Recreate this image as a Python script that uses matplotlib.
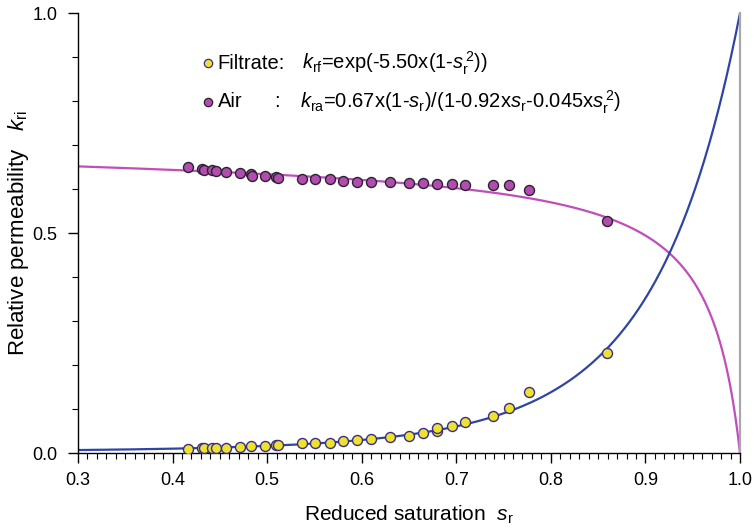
import numpy as np
import matplotlib
matplotlib.use("Agg")
import matplotlib.pyplot as plt
from matplotlib.ticker import MultipleLocator, FixedLocator, FormatStrFormatter

plt.rcParams["font.family"] = ["Liberation Sans", "DejaVu Sans"]
plt.rcParams["mathtext.fontset"] = "custom"
plt.rcParams["mathtext.rm"] = "Liberation Sans"
plt.rcParams["mathtext.it"] = "Liberation Sans:italic"

# Measured reduced saturation and relative permeabilities
s_air = [0.416, 0.431, 0.433, 0.442, 0.446, 0.457, 0.471, 0.483, 0.484, 0.498,
         0.509, 0.512, 0.537, 0.551, 0.566, 0.580, 0.595, 0.610, 0.630, 0.650,
         0.665, 0.680, 0.695, 0.709, 0.739, 0.756, 0.777, 0.859]
k_air = [0.649, 0.645, 0.643, 0.643, 0.642, 0.639, 0.637, 0.634, 0.630, 0.630,
         0.627, 0.625, 0.623, 0.622, 0.622, 0.619, 0.617, 0.616, 0.615, 0.614,
         0.613, 0.612, 0.611, 0.610, 0.609, 0.608, 0.598, 0.528]

s_filt = [0.416, 0.431, 0.433, 0.442, 0.446, 0.457, 0.471, 0.483, 0.498, 0.509,
          0.512, 0.537, 0.551, 0.566, 0.580, 0.595, 0.610, 0.630, 0.650, 0.665,
          0.680, 0.680, 0.695, 0.709, 0.739, 0.756, 0.777, 0.859]
k_filt = [0.009, 0.011, 0.011, 0.011, 0.011, 0.011, 0.013, 0.015, 0.017, 0.019,
          0.019, 0.022, 0.022, 0.023, 0.027, 0.029, 0.032, 0.036, 0.039, 0.045,
          0.049, 0.056, 0.061, 0.070, 0.083, 0.103, 0.139, 0.227]

# Fitted model coefficients
a_filt = 5.50
c_air, b1_air, b2_air = 0.67, 0.92, 0.045

x_ticks = [0.3, 0.4, 0.5, 0.6, 0.7, 0.8, 0.9, 1.0]
y_ticks = [0.0, 0.5, 1.0]

s = np.linspace(0.3, 1.0, 600)
kf_fit = np.exp(-a_filt * (1 - s ** 2))
ka_fit = c_air * (1 - s) / (1 - b1_air * s - b2_air * s ** 2)

fig = plt.figure(figsize=(7.54, 5.29), dpi=100)
ax = fig.add_axes([78 / 754, 76 / 529, 662 / 754, 440 / 529])

blue = "#2F45A6"
magenta = "#C04DBB"

ax.plot(s, ka_fit, color=magenta, lw=1.6, zorder=2)
ax.plot(s, kf_fit, color=blue, lw=1.6, zorder=2)

ax.plot(s_air, k_air, ls="none", marker="o", ms=7.2, mfc="#B24CAE",
        mec="#2A2230", mew=1.0, zorder=3)
ax.plot(s_filt, k_filt, ls="none", marker="o", ms=7.2, mfc="#EEE231",
        mec="#3B2D86", mew=1.0, zorder=3)

ax.set_xlim(0.3, 1.0)
ax.set_ylim(0.0, 1.0)

ax.xaxis.set_major_locator(FixedLocator(x_ticks))
ax.xaxis.set_minor_locator(MultipleLocator(0.01))
ax.yaxis.set_major_locator(FixedLocator(y_ticks))
ax.yaxis.set_minor_locator(MultipleLocator(0.1))
ax.xaxis.set_major_formatter(FormatStrFormatter("%.1f"))
ax.yaxis.set_major_formatter(FormatStrFormatter("%.1f"))

ax.tick_params(axis="both", which="major", direction="out", length=7,
               width=1.0, labelsize=13, color="black")
ax.tick_params(axis="x", which="major", pad=7)
ax.tick_params(axis="y", which="major", pad=8)
ax.tick_params(axis="both", which="minor", direction="out", length=4,
               width=0.8, color="black")

ax.spines["top"].set_visible(False)
ax.spines["right"].set_color("#A8A8A8")
ax.spines["right"].set_linewidth(1.6)
ax.spines["left"].set_linewidth(1.0)
ax.spines["bottom"].set_linewidth(1.0)

ax.set_xlabel(r"Reduced saturation  $s_{\rm r}$", fontsize=15)
ax.set_ylabel(r"Relative permeability   $k_{\rm ri}$", fontsize=16)
ax.xaxis.set_label_coords(0.5, -0.115)
ax.yaxis.set_label_coords(-0.071, 0.5)

# Key with the fitted expressions
ax.plot([0.196], [0.886], transform=ax.transAxes, marker="o", ms=6,
        mfc="#EEE231", mec="#3B2D86", mew=0.9, clip_on=False)
ax.plot([0.196], [0.798], transform=ax.transAxes, marker="o", ms=6,
        mfc="#B24CAE", mec="#2A2230", mew=0.9, clip_on=False)
key_fs = 14.5
ax.text(0.211, 0.886, "Filtrate:", transform=ax.transAxes, fontsize=key_fs,
        va="center", ha="left")
ax.text(0.338, 0.886, r"$k_{\rm rf}$=exp(-5.50x(1-$s_{\rm r}^{\,2}$))",
        transform=ax.transAxes, fontsize=key_fs, va="center", ha="left")
ax.text(0.211, 0.798, "Air", transform=ax.transAxes, fontsize=key_fs,
        va="center", ha="left")
ax.text(0.297, 0.798, ":", transform=ax.transAxes, fontsize=key_fs,
        va="center", ha="left")
ax.text(0.335, 0.798,
        r"$k_{\rm ra}$=0.67x(1-$s_{\rm r}$)/(1-0.92x$s_{\rm r}$-0.045x$s_{\rm r}^{\,2}$)",
        transform=ax.transAxes, fontsize=key_fs, va="center", ha="left")

fig.savefig("out.png", dpi=100)
